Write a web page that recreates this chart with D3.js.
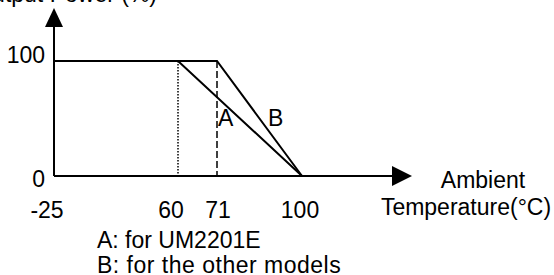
<!doctype html>
<html>
<head>
<meta charset="utf-8">
<script src="https://d3js.org/d3.v7.min.js"></script>
<style>
  body { margin: 0; background: #fff; }
  text { font-family: "Liberation Sans", Arial, sans-serif; font-size: 23px; fill: #000; }
</style>
</head>
<body>
<div id="chart"></div>
<script>
// derating curve data
var tempTicks = [-25, 60, 71, 100];
var powerTicks = [0, 100];
var curveA = [{t: -25, p: 100}, {t: 60, p: 100}, {t: 100, p: 0}];
var curveB = [{t: -25, p: 100}, {t: 71, p: 100}, {t: 100, p: 0}];
var legend = ["A: for UM2201E", "B: for the other models"];

var width = 554, height = 275;

var svg = d3.select("#chart").append("svg")
  .attr("width", width)
  .attr("height", height);

// the original drawing is not to scale, so use a piecewise scale
var x = d3.scaleLinear()
  .domain(tempTicks)
  .range([54, 178, 217, 302]);

var y = d3.scaleLinear()
  .domain([0, 100])
  .range([176, 61]);

var line = d3.line()
  .x(function(d) { return x(d.t); })
  .y(function(d) { return y(d.p); });

// axes with arrows
svg.append("line")
  .attr("x1", x(-25)).attr("y1", y(0))
  .attr("x2", 395).attr("y2", y(0))
  .style("stroke", "#000").style("stroke-width", 2);
svg.append("path")
  .attr("d", "M392," + (y(0) - 10) + "L412," + y(0) + "L392," + (y(0) + 10) + "Z")
  .style("fill", "#000");

svg.append("line")
  .attr("x1", x(-25)).attr("y1", y(0))
  .attr("x2", x(-25)).attr("y2", 25)
  .style("stroke", "#000").style("stroke-width", 2);
svg.append("path")
  .attr("d", "M" + (x(-25) - 9) + ",27L" + x(-25) + ",8L" + (x(-25) + 9) + ",27Z")
  .style("fill", "#000");

// axis title (cut off at top in original)
svg.append("text")
  .attr("x", 157).attr("y", 2)
  .style("text-anchor", "end")
  .text("Output Power (%)");

// y labels
svg.selectAll(".ylab")
  .data(powerTicks)
  .enter().append("text")
  .attr("class", "ylab")
  .attr("x", 45)
  .attr("y", function(d) { return d === 0 ? 187 : 63; })
  .style("text-anchor", "end")
  .text(function(d) { return d; });

// x labels
var xoff = {"-25": -7, "60": -7, "71": 1, "100": -2};
svg.selectAll(".xlab")
  .data(tempTicks)
  .enter().append("text")
  .attr("class", "xlab")
  .attr("x", function(d) { return x(d) + xoff[d]; })
  .attr("y", 218)
  .style("text-anchor", "middle")
  .text(function(d) { return d; });

svg.append("text").attr("x", 483).attr("y", 188)
  .style("text-anchor", "middle").text("Ambient");
svg.append("text").attr("x", 466).attr("y", 215)
  .style("text-anchor", "middle").text("Temperature(°C)");

// reference verticals
svg.append("line")
  .attr("x1", x(60)).attr("y1", y(100))
  .attr("x2", x(60)).attr("y2", y(0))
  .style("stroke", "#000").style("stroke-width", 1.5)
  .style("stroke-dasharray", "1.5,1.5");
svg.append("line")
  .attr("x1", x(71)).attr("y1", y(100))
  .attr("x2", x(71)).attr("y2", y(0))
  .style("stroke", "#000").style("stroke-width", 1.5)
  .style("stroke-dasharray", "7,3");

// curves
svg.append("path").datum(curveB)
  .attr("d", line)
  .style("fill", "none").style("stroke", "#000").style("stroke-width", 2);
svg.append("path").datum(curveA)
  .attr("d", line)
  .style("fill", "none").style("stroke", "#000").style("stroke-width", 2);

svg.append("text").attr("x", 218).attr("y", 126).text("A");
svg.append("text").attr("x", 268).attr("y", 126).text("B");

// legend
svg.selectAll(".leg")
  .data(legend)
  .enter().append("text")
  .attr("class", "leg")
  .attr("x", 97)
  .attr("y", function(d, i) { return 248 + i * 25; })
  .style("letter-spacing", function(d, i) { return i ? "0.5px" : "0px"; })
  .text(function(d) { return d; });
</script>
</body>
</html>
